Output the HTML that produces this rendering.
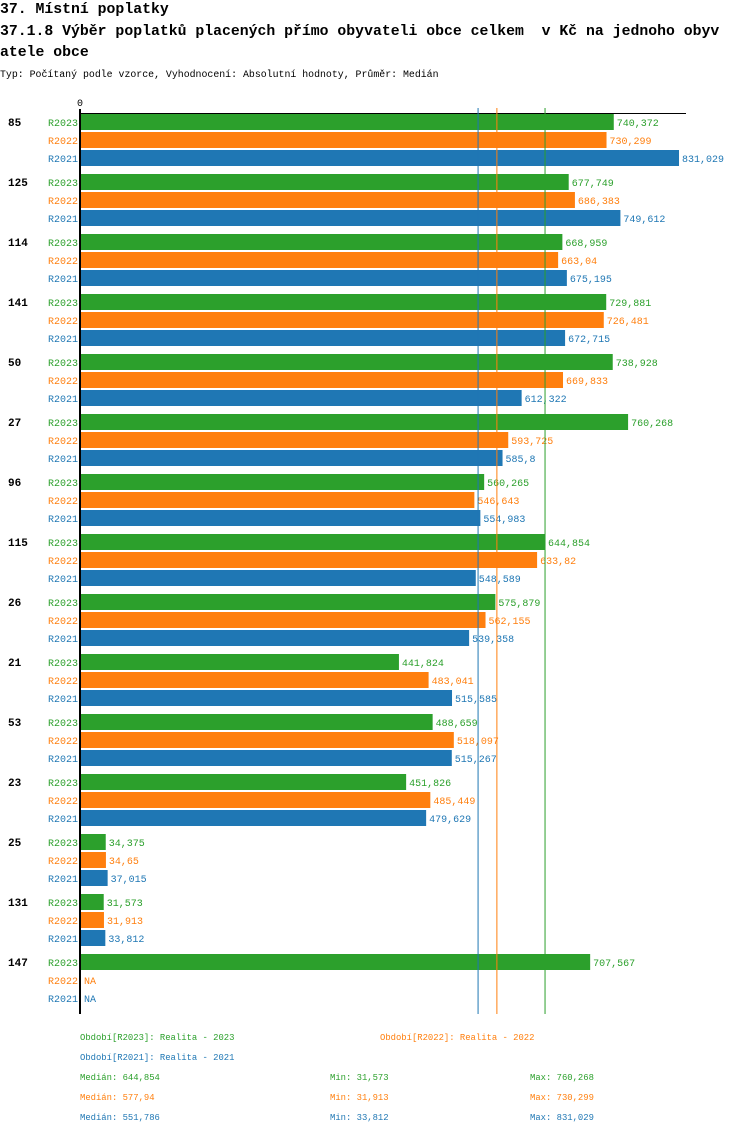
<!DOCTYPE html>
<html><head><meta charset="utf-8"><style>
body{margin:0;background:#fff;width:750px;height:1134px;overflow:hidden}
svg text{font-family:"Liberation Mono","DejaVu Sans Mono",monospace;white-space:pre}
</style></head><body>
<svg id="c" width="750" height="1134" xmlns="http://www.w3.org/2000/svg" xml:space="preserve">
<text x="0" y="13" font-size="14.8" font-weight="bold">37. Místní poplatky</text>
<text x="0" y="35" font-size="14.8" font-weight="bold">37.1.8 Výběr poplatků placených přímo obyvateli obce celkem  v Kč na jednoho obyv</text>
<text x="0" y="56" font-size="14.8" font-weight="bold">atele obce</text>
<text x="0" y="77" font-size="9.9">Typ: Počítaný podle vzorce, Vyhodnocení: Absolutní hodnoty, Průměr: Medián</text>
<g id="g"></g>
</svg>
<script>
const groups=["85","125","114","141","50","27","96","115","26","21","53","23","25","131","147"];
const series=["R2023","R2022","R2021"];
const v2023=[740.372,677.749,668.959,729.881,738.928,760.268,560.265,644.854,575.879,441.824,488.659,451.826,34.375,31.573,707.567];
const v2022=[730.299,686.383,663.04,726.481,669.833,593.725,546.643,633.82,562.155,483.041,518.097,485.449,34.65,31.913,null];
const v2021=[831.029,749.612,675.195,672.715,612.322,585.8,554.983,548.589,539.358,515.585,515.267,479.629,37.015,33.812,null];
const medians=[644.854,577.94,551.786];
const mins=["31,573","31,913","33,812"];
const maxs=["760,268","730,299","831,029"];
const colors=["#2ca02c","#ff7f0e","#1f77b4"];
const vals=[v2023,v2022,v2021];
const NS="http://www.w3.org/2000/svg";
const g=document.getElementById('g');
const X0=81,K=0.7196,Y0=114;
const x=v=>X0+v*K;
const yRow=(gi,si)=>Y0+gi*60+si*18;
function el(t,a,txt){const e=document.createElementNS(NS,t);for(const k in a)e.setAttribute(k,a[k]);if(txt!=null)e.textContent=txt;g.appendChild(e);return e;}
const fmt=v=>String(v).replace('.',',');
let e=el('text',{x:80,y:106,'font-size':10,'text-anchor':'middle'},'0');


e=el('line',{x1:80,y1:113.5,x2:686,y2:113.5,stroke:'#000','stroke-width':1});


groups.forEach((gn,gi)=>{
  let t=el('text',{x:8,y:yRow(gi,0)+12,'font-size':11,'font-weight':'bold'},gn);
  
  
  series.forEach((s,si)=>{
    const y=yRow(gi,si),v=vals[si][gi];
    let l=el('text',{x:78,y:y+12,'font-size':10,'text-anchor':'end',fill:colors[si]},s);
    
    
    if(v!=null){
      let r=el('rect',{x:X0,y:y,width:v*K,height:16,fill:colors[si]});
      
      
    }
    let vt=el('text',{x:(v==null?X0:x(v))+3,y:y+12,'font-size':10,fill:colors[si]},v==null?'NA':fmt(v));
    
    
  });
});
medians.forEach((m,i)=>{
  let l=el('line',{x1:x(m),y1:108,x2:x(m),y2:1014,stroke:colors[i],'stroke-width':1});
  
  
});
e=el('line',{x1:80,y1:109,x2:80,y2:1014,stroke:'#000','stroke-width':2});


const leg=[[80,1040,0],[380,1040,1],[80,1060,2]];
const yrs=["2023","2022","2021"];
leg.forEach(([lx,ly,i])=>{
  let t=el('text',{x:lx,y:ly,'font-size':8.9,fill:colors[i]},'Období['+series[i]+']: Realita - '+yrs[i]);
  
  
});
medians.forEach((m,i)=>{
  const y=1080+i*20;
  let a=el('text',{x:80,y:y,'font-size':8.9,fill:colors[i]},'Medián: '+fmt(m));
  
  
  let b=el('text',{x:330,y:y,'font-size':8.9,fill:colors[i]},'Min: '+mins[i]);
  
  
  let c=el('text',{x:530,y:y,'font-size':8.9,fill:colors[i]},'Max: '+maxs[i]);
  
  
});
</script>
</body></html>
